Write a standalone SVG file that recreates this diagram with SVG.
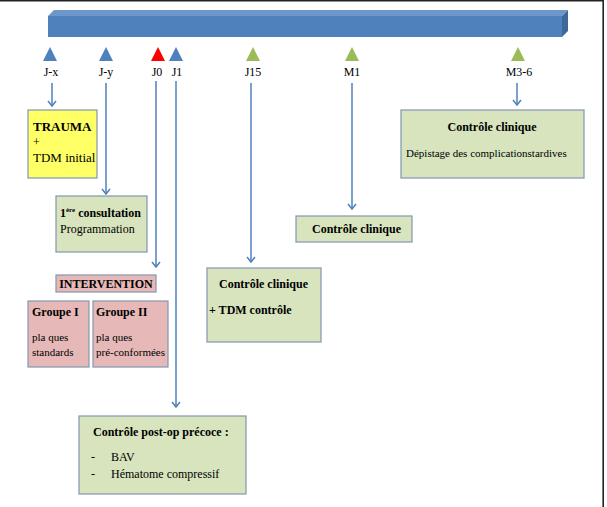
<svg xmlns="http://www.w3.org/2000/svg" width="607" height="507" viewBox="0 0 607 507" font-family="'Liberation Serif', 'Times New Roman', serif">
<defs>
<style>
text{font-family:"Liberation Serif","Times New Roman",serif;font-size:12px;fill:#000}
.b{font-weight:bold}
.lbl{font-size:12px;text-anchor:middle}
.box{stroke:#8496B0;stroke-width:1.2}
.g{fill:#D7E4BD}
.p{fill:#E6B9B8}
.y{fill:#FFFF66}
.con{fill:none;stroke:#4F81BD;stroke-width:1.5}
.tb{fill:#4F81BD}.tg{fill:#9BBB59}.tr{fill:#FF0000}
</style>
<marker id="ah" markerWidth="10" markerHeight="10" refX="8" refY="5" orient="auto" markerUnits="userSpaceOnUse" viewBox="0 0 10 10">
<path d="M3,1 L8,5 L3,9" fill="none" stroke="#4F81BD" stroke-width="1.5"/>
</marker>
</defs>
<rect x="0" y="0" width="607" height="507" fill="#fff"/>
<line x1="0" y1="0.8" x2="604" y2="0.8" stroke="#222" stroke-width="1.6"/>
<line x1="603.2" y1="0" x2="603.2" y2="507" stroke="#222" stroke-width="1.6"/>

<g id="timeline">
<polygon points="48,16 54,10 568,10 562,16" fill="#6D96CB"/>
<polygon points="562,16 568,10 568,31 562,37" fill="#3D6899"/>
<rect x="48" y="16" width="514" height="21" fill="#4F81BD"/>
</g>

<g id="markers">
<polygon class="tb" points="50,47 57,61 43,61"/>
<polygon class="tb" points="106,47 113,61 99,61"/>
<polygon class="tr" points="158,47 165,61 151,61"/>
<polygon class="tb" points="176,47 183,61 169,61"/>
<polygon class="tg" points="253,47 260,61 246,61"/>
<polygon class="tg" points="352,47 359,61 345,61"/>
<polygon class="tg" points="518,47 525,61 511,61"/>
<text class="lbl" x="51" y="76">J-x</text>
<text class="lbl" x="106" y="76">J-y</text>
<text class="lbl" x="157" y="76">J0</text>
<text class="lbl" x="177" y="76">J1</text>
<text class="lbl" x="253" y="76">J15</text>
<text class="lbl" x="352" y="76">M1</text>
<text class="lbl" x="519" y="76">M3-6</text>
</g>

<g id="connectors">
<line class="con" x1="52" y1="83" x2="52" y2="106" marker-end="url(#ah)"/>
<line class="con" x1="106" y1="83" x2="106" y2="194" marker-end="url(#ah)"/>
<line class="con" x1="156" y1="81" x2="156" y2="267" marker-end="url(#ah)"/>
<line class="con" x1="176" y1="81" x2="176" y2="407" marker-end="url(#ah)"/>
<line class="con" x1="251" y1="83" x2="251" y2="262" marker-end="url(#ah)"/>
<line class="con" x1="352" y1="83" x2="352" y2="209" marker-end="url(#ah)"/>
<line class="con" x1="517" y1="83" x2="517" y2="105" marker-end="url(#ah)"/>
</g>

<g id="trauma">
<rect class="box y" x="28" y="110" width="69" height="68"/>
<text class="b" x="33" y="131" style="font-size:13px">TRAUMA</text>
<text x="33" y="146">+</text>
<text x="33" y="162" style="font-size:13px">TDM initial</text>
</g>

<g id="consultation">
<rect class="box g" x="56" y="196" width="91" height="56"/>
<text class="b" x="60" y="217">1<tspan dy="-5" style="font-size:7px">ère</tspan><tspan dy="5"> consultation</tspan></text>
<text x="60" y="233">Programmation</text>
</g>

<g id="intervention">
<rect class="box p" x="56" y="275" width="100" height="17"/>
<text class="b" x="106" y="288" text-anchor="middle">INTERVENTION</text>
</g>

<g id="groupe1">
<rect class="box p" x="28" y="301" width="61" height="66"/>
<text class="b" x="32" y="316">Groupe I</text>
<text x="32" y="341" style="font-size:11px">pla ques</text>
<text x="32" y="356" style="font-size:11px">standards</text>
</g>

<g id="groupe2">
<rect class="box p" x="93" y="301" width="75" height="66"/>
<text class="b" x="96" y="316">Groupe II</text>
<text x="96" y="341" style="font-size:11px">pla ques</text>
<text x="96" y="356" style="font-size:11px">pré-conformées</text>
</g>

<g id="postop">
<rect class="box g" x="79" y="416" width="167" height="78"/>
<text class="b" x="93" y="436">Contrôle post-op précoce :</text>
<text x="91" y="461">-</text>
<text x="111" y="461">BAV</text>
<text x="91" y="478">-</text>
<text x="111" y="478">Hématome compressif</text>
</g>

<g id="j15box">
<rect class="box g" x="207" y="268" width="114" height="74"/>
<text class="b" x="219" y="288">Contrôle clinique</text>
<text class="b" x="209" y="314">+ TDM contrôle</text>
</g>

<g id="m1box">
<rect class="box g" x="296" y="216" width="116" height="26"/>
<text class="b" x="312" y="233">Contrôle clinique</text>
</g>

<g id="m36box">
<rect class="box g" x="401" y="110" width="183" height="68"/>
<text class="b" x="492" y="131" text-anchor="middle">Contrôle clinique</text>
<text x="406" y="157" style="font-size:11px">Dépistage des complicationstardives</text>
</g>
</svg>
